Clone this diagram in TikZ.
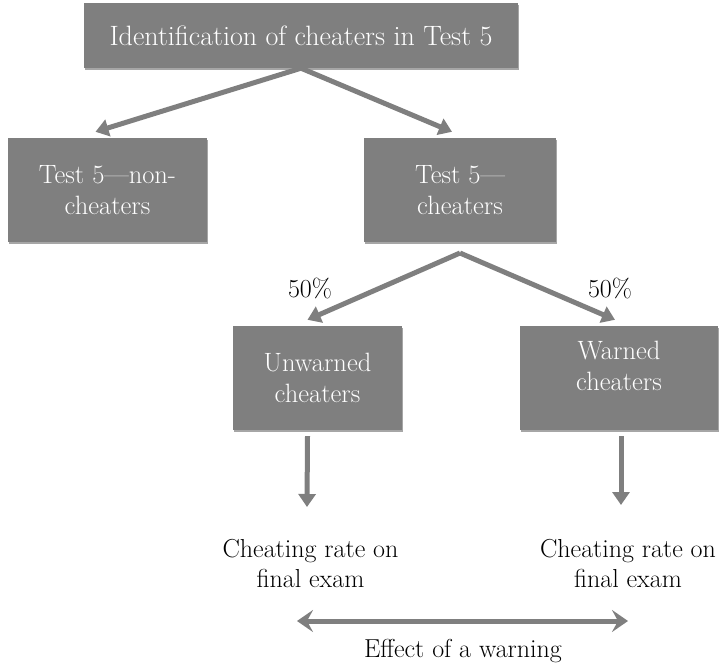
\documentclass[tikz,border=0pt]{standalone}
\usepackage{fontspec}
\usetikzlibrary{arrows.meta}
\usetikzlibrary{shadows}
\definecolor{boxgray}{HTML}{7F7F7F}

\begin{document}
\begin{tikzpicture}[x=1pt,y=-1pt,
  box/.style={fill=boxgray,text=white,align=center,inner sep=0pt,
    font=\fontsize{26.5}{31}\selectfont,
    drop shadow={shadow xshift=1pt,shadow yshift=-2pt,opacity=0.35,fill=black}},
  arr/.style={draw=boxgray,line width=5pt,-{Triangle[width=17pt,length=13pt]}},
  dbl/.style={draw=boxgray,line width=5pt,{Stealth[width=22pt,length=16pt,inset=6pt]}-{Stealth[width=22pt,length=16pt,inset=6pt]}},
  txt/.style={align=center,inner sep=0pt,font=\fontsize{26}{30}\selectfont}]
\useasboundingbox (0,0) rectangle (720,671);
% boxes
\node[box,minimum width=434pt,minimum height=65pt,font=\fontsize{28}{31}\selectfont] (ident) at (301,35.5) {Identification of cheaters in Test 5};
\node[box,minimum width=199pt,minimum height=104pt] (nonch) at (107.5,190) {Test 5—non-\\cheaters};
\node[box,minimum width=192pt,minimum height=104pt] (cheat) at (460,190) {Test 5—\\cheaters};
\node[box,minimum width=169pt,minimum height=104pt] (unwarn) at (317.5,378) {Unwarned\\cheaters};
\node[box,minimum width=198pt,minimum height=104pt] (warn) at (619,378)
  {\raisebox{3pt}[0pt][0pt]{\begin{tabular}{@{}c@{}}Warned\\cheaters\end{tabular}}};
% labels
\node[txt] (pctU) at (310,288) {50\%};
\node[txt] (pctW) at (610,288) {50\%};
\node[txt] (rateU) at (310.5,564) {Cheating rate on\\final exam};
\node[txt] (rateW) at (628,564) {Cheating rate on\\final exam};
\node[txt] (effect) at (463,651) {Effect of a warning};
% helper points
\coordinate (split) at (460,253);
\coordinate (endU) at (307,507);
\coordinate (endW) at (621,505);
\coordinate (effL) at (297,621);
\coordinate (effR) at (628,621);

\draw[arr] (ident.south) -- ([xshift=-12pt,yshift=6pt]nonch.north);
\draw[arr] (ident.south) -- ([xshift=-8pt,yshift=6pt]cheat.north);
\draw[arr] (split) -- ([xshift=-10pt,yshift=6pt]unwarn.north);
\draw[arr] (split) -- ([xshift=-4pt,yshift=6pt]warn.north);
\draw[arr] ([xshift=-10pt,yshift=-6pt]unwarn.south) -- (endU);
\draw[arr] ([xshift=2pt,yshift=-6pt]warn.south) -- (endW);
\draw[dbl] (effL) -- (effR);
\end{tikzpicture}
\end{document}
